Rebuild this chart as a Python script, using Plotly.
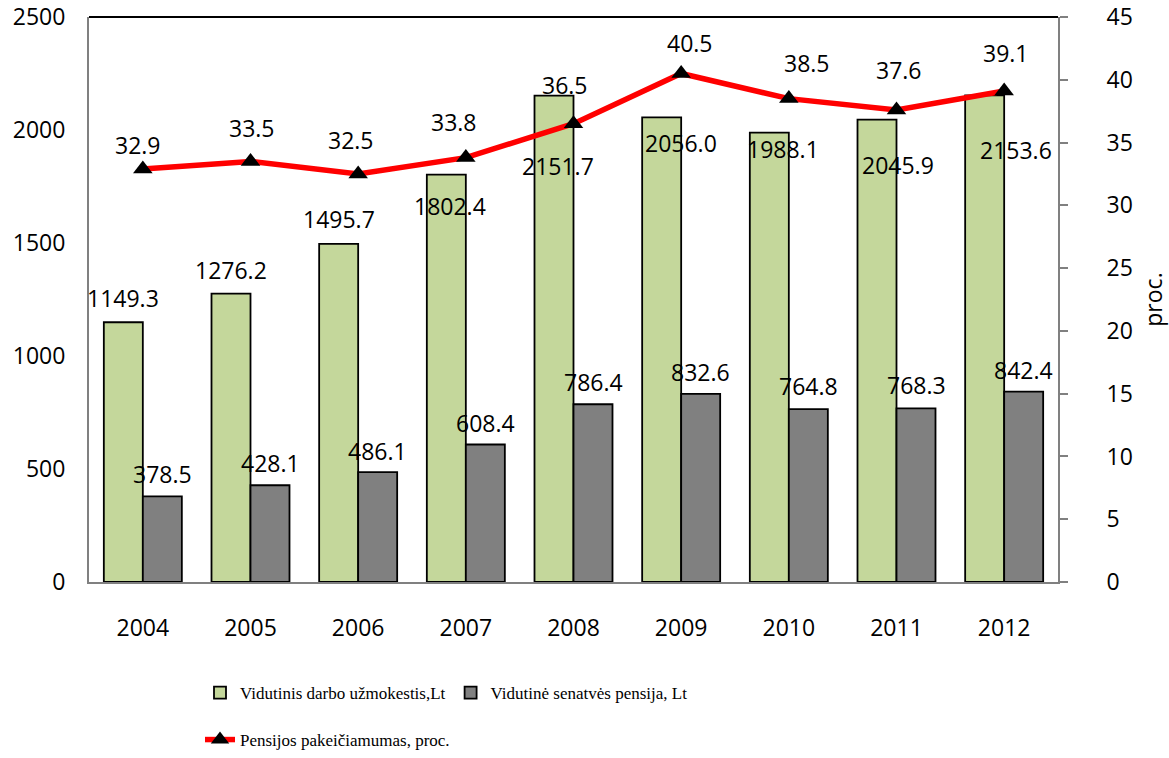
import plotly.graph_objects as go

years = [2004, 2005, 2006, 2007, 2008, 2009, 2010, 2011, 2012]
year_labels = ["2004", "2005", "2006", "2007", "2008", "2009", "2010", "2011", "2012"]
wage = [1149.3, 1276.2, 1495.7, 1802.4, 2151.7, 2056.0, 1988.1, 2045.9, 2153.6]
pension = [378.5, 428.1, 486.1, 608.4, 786.4, 832.6, 764.8, 768.3, 842.4]
ratio = [32.9, 33.5, 32.5, 33.8, 36.5, 40.5, 38.5, 37.6, 39.1]

wage_name = "Vidutinis darbo užmokestis,Lt"
pension_name = "Vidutinė senatvės pensija, Lt"
ratio_name = "Pensijos pakeičiamumas, proc."

# label placement offsets (pixels) – styling only
wage_lbl_dx = [0, 0, 0, 4, 4, 19, 14, 21, 31]
wage_lbl_dy = [24, 24, 25, -31, -70, -26, -16, -45, -55]
pens_lbl_dy = [22, 22, 21, 22, 22, 22, 23, 23, 22]
ratio_lbl_dx = [-5, 1, -7, -12, -9, 9, 18, 2, 2]
ratio_lbl_dy = [24, 33, 34, 36, 39, 31, 36, 40, 38]

LBL = dict(family="Open Sans", size=23, color="black")
BAR_HALF = 19.5

fig = go.Figure()
fig.add_trace(go.Bar(x=years, y=wage, name=wage_name,
                     marker=dict(color="#C4D79B", line=dict(color="black", width=1.8)),
                     legend="legend"))
fig.add_trace(go.Bar(x=years, y=pension, name=pension_name,
                     marker=dict(color="#808080", line=dict(color="black", width=1.8)),
                     legend="legend"))
fig.add_trace(go.Scatter(x=years, y=ratio, name=ratio_name, yaxis="y2", mode="lines+markers",
                         line=dict(color="#FF0000", width=5.5),
                         marker=dict(symbol="triangle-up", size=17, color="black"),
                         legend="legend2"))

ann = []
for i, yr in enumerate(years):
    ann.append(dict(x=yr, y=wage[i], xref="x", yref="y", text=f"{wage[i]:.1f}", showarrow=False,
                    xanchor="center", yanchor="middle", xshift=-BAR_HALF + wage_lbl_dx[i],
                    yshift=wage_lbl_dy[i], font=LBL))
    ann.append(dict(x=yr, y=pension[i], xref="x", yref="y", text=f"{pension[i]:.1f}", showarrow=False,
                    xanchor="center", yanchor="middle", xshift=BAR_HALF,
                    yshift=pens_lbl_dy[i], font=LBL))
    ann.append(dict(x=yr, y=ratio[i], xref="x", yref="y2", text=f"{ratio[i]:.1f}", showarrow=False,
                    xanchor="center", yanchor="middle", xshift=ratio_lbl_dx[i],
                    yshift=ratio_lbl_dy[i], font=LBL))

fig.update_layout(
    width=1169, height=758,
    margin=dict(l=89, r=111, t=17, b=176, autoexpand=False),
    paper_bgcolor="white", plot_bgcolor="white",
    barmode="group", bargap=0.2755, bargroupgap=0,
    font=dict(family="Open Sans", size=23, color="black"),
    xaxis=dict(type="linear", range=[years[0] - 0.5, years[-1] + 0.5],
               tickvals=years, ticktext=year_labels,
               showline=True, linecolor="#808080", linewidth=2, ticks="",
               showgrid=False, zeroline=False, ticklabelstandoff=24, tickfont=LBL, automargin=False),
    yaxis=dict(range=[0, 2500], dtick=500, showline=True, linecolor="#808080", linewidth=2,
               ticks="", showgrid=False, zeroline=False, ticklabelstandoff=17, tickfont=LBL,
               automargin=False, ticklabeloverflow="allow"),
    yaxis2=dict(range=[0, 45], dtick=5, overlaying="y", side="right", showline=True,
                linecolor="#808080", linewidth=2, ticks="outside", ticklen=8,
                tickcolor="#808080", tickwidth=1.5, showgrid=False, zeroline=False,
                ticklabelstandoff=34, tickfont=LBL, automargin=False, ticklabeloverflow="allow",
                title=dict(text="proc.", font=LBL, standoff=15)),
    legend=dict(orientation="h", x=(200 - 89) / 969, xanchor="left",
                y=(582 - 693) / 565, yanchor="middle",
                font=dict(family="Liberation Serif", size=17, color="black"),
                bgcolor="rgba(0,0,0,0)", traceorder="normal"),
    legend2=dict(orientation="h", x=(200 - 89) / 969, xanchor="left",
                 y=(582 - 740) / 565, yanchor="middle",
                 font=dict(family="Liberation Serif", size=17, color="black"),
                 bgcolor="rgba(0,0,0,0)"),
    annotations=ann,
    shapes=[dict(type="line", xref="paper", yref="paper", x0=0, x1=1, y0=1, y1=1,
                 line=dict(color="black", width=2))],
)

fig.write_html("out.html", config={"displayModeBar": False},
               post_script="document.body.style.margin='0';")
